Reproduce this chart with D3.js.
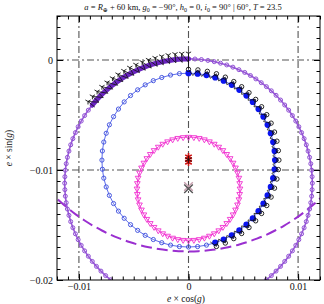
<!DOCTYPE html>
<html>
<head>
<meta charset="utf-8">
<script src="https://cdn.jsdelivr.net/npm/d3@7"></script>
<style>
body { margin: 0; background: #fff; }
</style>
</head>
<body>
<svg width="324" height="304"></svg>
<script>
// all series in units of 1e-3 : [e*cos(g), e*sin(g)]
const purpleRing = [[6.64,-20.34],[7.11,-19.98],[7.56,-19.60],[7.99,-19.19],[8.40,-18.76],[8.78,-18.31],[9.14,-17.84],[9.48,-17.35],[9.79,-16.85],[10.07,-16.33],[10.32,-15.80],[10.55,-15.25],[10.75,-14.69],[10.91,-14.12],[11.05,-13.55],[11.16,-12.97],[11.24,-12.38],[11.28,-11.79],[11.30,-11.20],[11.28,-10.61],[11.24,-10.02],[11.16,-9.43],[11.05,-8.85],[10.91,-8.28],[10.75,-7.71],[10.55,-7.15],[10.32,-6.60],[10.07,-6.07],[9.79,-5.55],[9.48,-5.05],[9.14,-4.56],[8.78,-4.09],[8.40,-3.64],[7.99,-3.21],[7.56,-2.80],[7.11,-2.42],[6.64,-2.06],[6.15,-1.72],[5.65,-1.41],[5.13,-1.13],[4.60,-0.88],[4.05,-0.65],[3.49,-0.45],[2.92,-0.29],[2.35,-0.15],[1.77,-0.04],[1.18,0.04],[0.59,0.09],[0,0.10],[-0.59,0.09],[-1.18,0.04],[-1.77,-0.04],[-2.35,-0.15],[-2.92,-0.29],[-3.49,-0.45],[-4.05,-0.65],[-4.60,-0.88],[-5.13,-1.13],[-5.65,-1.41],[-6.15,-1.72],[-6.64,-2.06],[-7.11,-2.42],[-7.56,-2.80],[-7.99,-3.21],[-8.40,-3.64],[-8.78,-4.09],[-9.14,-4.56],[-9.48,-5.05],[-9.79,-5.55],[-10.07,-6.07],[-10.32,-6.60],[-10.55,-7.15],[-10.75,-7.71],[-10.91,-8.28],[-11.05,-8.85],[-11.16,-9.43],[-11.24,-10.02],[-11.28,-10.61],[-11.30,-11.20],[-11.28,-11.79],[-11.24,-12.38],[-11.16,-12.97],[-11.05,-13.55],[-10.91,-14.12],[-10.75,-14.69],[-10.55,-15.25],[-10.32,-15.80],[-10.07,-16.33],[-9.79,-16.85],[-9.48,-17.35],[-9.14,-17.84],[-8.78,-18.31],[-8.40,-18.76],[-7.99,-19.19],[-7.56,-19.60],[-7.11,-19.98],[-6.64,-20.34]];

const thickArc = [[-8.78,-4.09],[-8.40,-3.64],[-7.99,-3.21],[-7.56,-2.80],[-7.11,-2.42],[-6.64,-2.06],[-6.15,-1.72],[-5.65,-1.41],[-5.13,-1.13],[-4.60,-0.88],[-4.05,-0.65],[-3.49,-0.45],[-2.92,-0.29],[-2.35,-0.15],[-1.77,-0.04],[-1.18,0.04],[-0.59,0.09],[0,0.10]];

const blueRing = [[7.90,-9.10],[7.86,-8.27],[7.73,-7.46],[7.51,-6.66],[7.22,-5.89],[6.84,-5.15],[6.39,-4.46],[5.87,-3.81],[5.29,-3.23],[4.64,-2.71],[3.95,-2.26],[3.21,-1.88],[2.44,-1.59],[1.64,-1.37],[0.83,-1.24],[0,-1.20],[-0.83,-1.24],[-1.64,-1.37],[-2.44,-1.59],[-3.21,-1.88],[-3.95,-2.26],[-4.64,-2.71],[-5.29,-3.23],[-5.87,-3.81],[-6.39,-4.46],[-6.84,-5.15],[-7.22,-5.89],[-7.51,-6.66],[-7.73,-7.46],[-7.86,-8.27],[-7.90,-9.10],[-7.86,-9.93],[-7.73,-10.74],[-7.51,-11.54],[-7.22,-12.31],[-6.84,-13.05],[-6.39,-13.74],[-5.87,-14.39],[-5.29,-14.97],[-4.64,-15.49],[-3.95,-15.94],[-3.21,-16.32],[-2.44,-16.61],[-1.64,-16.83],[-0.83,-16.96],[0,-17.00],[0.83,-16.96],[1.64,-16.83],[2.44,-16.61],[3.21,-16.32],[3.95,-15.94],[4.64,-15.49],[5.29,-14.97],[5.87,-14.39],[6.39,-13.74],[6.84,-13.05],[7.22,-12.31],[7.51,-11.54],[7.73,-10.74],[7.86,-9.93]];

const blueFilled = [[0,-1.20],[0.83,-1.24],[1.64,-1.37],[2.44,-1.59],[3.21,-1.88],[3.95,-2.26],[4.64,-2.71],[5.29,-3.23],[5.87,-3.81],[6.39,-4.46],[6.84,-5.15],[7.22,-5.89],[7.51,-6.66],[7.73,-7.46],[7.86,-8.27],[7.90,-9.10],[7.86,-9.93],[7.73,-10.74],[7.51,-11.54],[7.22,-12.31],[6.84,-13.05],[6.39,-13.74],[5.87,-14.39],[5.29,-14.97],[4.64,-15.49],[3.95,-15.94],[3.21,-16.32],[2.44,-16.61]];

const magentaRing = [[4.70,-11.70],[4.67,-11.21],[4.60,-10.72],[4.47,-10.25],[4.29,-9.79],[4.07,-9.35],[3.80,-8.94],[3.49,-8.56],[3.14,-8.21],[2.76,-7.90],[2.35,-7.63],[1.91,-7.41],[1.45,-7.23],[0.98,-7.10],[0.49,-7.03],[0,-7.00],[-0.49,-7.03],[-0.98,-7.10],[-1.45,-7.23],[-1.91,-7.41],[-2.35,-7.63],[-2.76,-7.90],[-3.14,-8.21],[-3.49,-8.56],[-3.80,-8.94],[-4.07,-9.35],[-4.29,-9.79],[-4.47,-10.25],[-4.60,-10.72],[-4.67,-11.21],[-4.70,-11.70],[-4.67,-12.19],[-4.60,-12.68],[-4.47,-13.15],[-4.29,-13.61],[-4.07,-14.05],[-3.80,-14.46],[-3.49,-14.84],[-3.14,-15.19],[-2.76,-15.50],[-2.35,-15.77],[-1.91,-15.99],[-1.45,-16.17],[-0.98,-16.30],[-0.49,-16.37],[0,-16.40],[0.49,-16.37],[0.98,-16.30],[1.45,-16.17],[1.91,-15.99],[2.35,-15.77],[2.76,-15.50],[3.14,-15.19],[3.49,-14.84],[3.80,-14.46],[4.07,-14.05],[4.29,-13.61],[4.47,-13.15],[4.60,-12.68],[4.67,-12.19]];

const dashedArc = [[-12.93,-11.64],[-12.30,-12.30],[-11.64,-12.93],[-10.95,-13.52],[-10.23,-14.08],[-9.48,-14.59],[-8.70,-15.07],[-7.90,-15.50],[-7.08,-15.90],[-6.24,-16.24],[-5.38,-16.55],[-4.50,-16.81],[-3.62,-17.02],[-2.72,-17.19],[-1.82,-17.30],[-0.91,-17.38],[0,-17.40],[0.91,-17.38],[1.82,-17.30],[2.72,-17.19],[3.62,-17.02],[4.50,-16.81],[5.38,-16.55],[6.24,-16.24],[7.08,-15.90],[7.90,-15.50],[8.70,-15.07],[9.48,-14.59],[10.23,-14.08],[10.95,-13.52],[11.64,-12.93],[12.30,-12.30],[12.93,-11.64]];

// oscillating trajectory, first along the i=90 arc, then along the i=60 arc
const triOuter = [[-9.17,-3.77],[-8.77,-3.30],[-8.34,-2.86],[-7.90,-2.43],[-7.43,-2.03],[-6.94,-1.65],[-6.43,-1.30],[-5.90,-0.98],[-5.36,-0.69],[-4.80,-0.42],[-4.23,-0.18],[-3.65,0.02],[-3.05,0.20],[-2.45,0.34],[-1.85,0.45],[-1.23,0.54],[-0.62,0.58],[0,0.60]];
const triInner = [[-8.55,-4.28],[-8.17,-3.84],[-7.78,-3.42],[-7.36,-3.03],[-6.92,-2.65],[-6.47,-2.30],[-5.99,-1.97],[-5.50,-1.67],[-4.99,-1.40],[-4.47,-1.15],[-3.94,-0.93],[-3.40,-0.74],[-2.85,-0.58],[-2.29,-0.44],[-1.72,-0.34],[-1.15,-0.26],[-0.58,-0.22],[0,-0.20]];
const circOuter = [[0,-0.85],[0.86,-0.90],[1.72,-1.03],[2.55,-1.25],[3.36,-1.56],[4.13,-1.96],[4.85,-2.43],[5.52,-2.97],[6.13,-3.58],[6.67,-4.25],[7.14,-4.97],[7.54,-5.74],[7.85,-6.55],[8.07,-7.38],[8.20,-8.24],[8.25,-9.10],[8.20,-9.96],[8.07,-10.82],[7.85,-11.65],[7.54,-12.46],[7.14,-13.23],[6.67,-13.95],[6.13,-14.62],[5.52,-15.23],[4.85,-15.77],[4.13,-16.24],[3.36,-16.64],[2.55,-16.95]];
const circInner = [[0.40,-1.41],[1.20,-1.49],[1.99,-1.66],[2.76,-1.91],[3.50,-2.24],[4.19,-2.64],[4.85,-3.12],[5.44,-3.66],[5.98,-4.25],[6.46,-4.91],[6.86,-5.60],[7.19,-6.34],[7.44,-7.11],[7.61,-7.90],[7.69,-8.70],[7.69,-9.50],[7.61,-10.30],[7.44,-11.09],[7.19,-11.86],[6.86,-12.60],[6.46,-13.29],[5.98,-13.95],[5.44,-14.54],[4.85,-15.08],[4.19,-15.56],[3.50,-15.96],[2.76,-16.29],[1.99,-16.54]];

// mean points
const redCenters = [[0,-8.80],[0,-9.05],[0,-9.30]];
const grayCenters = [[0,-11.50],[0,-11.70]];

const xMajor = [-0.01, 0, 0.01];
const yMajor = [0, -0.01, -0.02];
const xGrid = [-0.01, 0, 0.01];
const yGrid = [0, -0.01];

const svg = d3.select('svg');
const serif = '"Liberation Serif", "DejaVu Serif", serif';
const k = 1e-3;

const x = d3.scaleLinear().domain([-0.012, 0.012]).range([57, 320]);
const y = d3.scaleLinear().domain([-0.02, 0.004]).range([280, 16]);
const px = d => x(d[0] * k), py = d => y(d[1] * k);

svg.append('clipPath').attr('id', 'clip')
  .append('rect').attr('x', 57).attr('y', 16).attr('width', 263).attr('height', 264);

// grid
const grid = svg.append('g').attr('stroke', '#555').attr('stroke-width', 1.1)
  .attr('stroke-dasharray', '7,3,2,3');
grid.selectAll('.gx').data(xGrid).join('line')
  .attr('x1', d => x(d)).attr('x2', d => x(d)).attr('y1', 16).attr('y2', 280);
grid.selectAll('.gy').data(yGrid).join('line')
  .attr('y1', d => y(d)).attr('y2', d => y(d)).attr('x1', 57).attr('x2', 320);

const plot = svg.append('g').attr('clip-path', 'url(#clip)');
const line = d3.line().x(px).y(py);

// dashed purple arc
plot.append('path').attr('d', d3.line().x(px).y(py).curve(d3.curveCatmullRom)(dashedArc))
  .attr('fill', 'none').attr('stroke', '#9a2fd0').attr('stroke-width', 2)
  .attr('stroke-dasharray', '11,5');

// purple ring
plot.append('path').attr('d', line(purpleRing))
  .attr('fill', 'none').attr('stroke', '#9a5ad8').attr('stroke-width', 1.6);
plot.selectAll('.pr').data(purpleRing).join('circle')
  .attr('cx', px).attr('cy', py).attr('r', 2)
  .attr('fill', 'none').attr('stroke', '#8f4fd4').attr('stroke-width', 1);

// thick band
plot.append('path').attr('d', line(thickArc))
  .attr('fill', 'none').attr('stroke', '#6a24c0').attr('stroke-width', 5)
  .attr('stroke-linecap', 'round');

// blue ring, open circles
plot.append('path').attr('d', d3.line().x(px).y(py).curve(d3.curveLinearClosed)(blueRing))
  .attr('fill', 'none').attr('stroke', '#4a5ae8').attr('stroke-width', 0.9);
plot.selectAll('.br').data(blueRing).join('circle')
  .attr('cx', px).attr('cy', py).attr('r', 2.1)
  .attr('fill', 'none').attr('stroke', '#4a5ae0').attr('stroke-width', 1);

// magenta ring, open down triangles
const tri = d3.symbol().type(d3.symbolTriangle).size(14);
plot.append('path').attr('d', d3.line().x(px).y(py).curve(d3.curveLinearClosed)(magentaRing))
  .attr('fill', 'none').attr('stroke', '#f030d0').attr('stroke-width', 0.9);
plot.selectAll('.mr').data(magentaRing).join('path')
  .attr('d', tri)
  .attr('transform', d => `translate(${px(d)},${py(d)}) rotate(180)`)
  .attr('fill', 'none').attr('stroke', '#f030d0').attr('stroke-width', 0.9);

// filled blue
plot.selectAll('.bf').data(blueFilled).join('circle')
  .attr('cx', px).attr('cy', py).attr('r', 3.1).attr('fill', '#0a14f0');

// black oscillating trajectory
const zig = [];
triInner.forEach((d, i) => { zig.push(d); zig.push(triOuter[i]); });
circOuter.forEach((d, i) => { zig.push(d); zig.push(circInner[i]); });
plot.append('path').attr('d', line(zig))
  .attr('fill', 'none').attr('stroke', '#111').attr('stroke-width', 0.8);

const triDown = s => `M0,0L0,${s}M0,0L${-0.87 * s},${-0.5 * s}M0,0L${0.87 * s},${-0.5 * s}`;
plot.selectAll('.bt').data(triOuter).join('path')
  .attr('d', triDown(3))
  .attr('transform', d => `translate(${px(d)},${py(d)})`)
  .attr('fill', 'none').attr('stroke', '#111').attr('stroke-width', 0.9);
plot.selectAll('.bc').data(circOuter).join('circle')
  .attr('cx', px).attr('cy', py).attr('r', 2.2)
  .attr('fill', 'none').attr('stroke', '#111').attr('stroke-width', 0.9);

// mean points
const star = d3.symbol().type(d3.symbolAsterisk).size(40);
plot.selectAll('.rc').data(redCenters).join('path')
  .attr('d', star).attr('transform', d => `translate(${px(d)},${py(d)})`)
  .attr('fill', 'none').attr('stroke', '#d01010').attr('stroke-width', 1.6);
plot.append('path').attr('d', star)
  .attr('transform', `translate(${px(redCenters[1])},${py(redCenters[1])})`)
  .attr('fill', 'none').attr('stroke', '#111').attr('stroke-width', 0.8);
const times = d3.symbol().type(d3.symbolTimes).size(50);
plot.selectAll('.gc').data(grayCenters).join('path')
  .attr('d', times).attr('transform', d => `translate(${px(d)},${py(d)})`)
  .attr('fill', 'none').attr('stroke', (d, i) => i ? '#555' : '#c8a0b0').attr('stroke-width', 1.4);

// axes
const fmt = d3.format('.2~f');
const xMinor = d3.range(-12, 13).map(v => v * k);
const yMinor = d3.range(-20, 5).map(v => v * k);
function styleAxis(g) {
  g.select('.domain').remove();
  g.selectAll('line').attr('stroke', '#000');
  g.selectAll('text').attr('font-family', serif).attr('font-size', 10).attr('fill', '#111');
}
svg.append('g').attr('transform', 'translate(0,280)')
  .call(d3.axisBottom(x).tickValues(xMajor).tickSize(-6).tickPadding(3).tickFormat(fmt)).call(styleAxis);
svg.append('g').attr('transform', 'translate(0,280)')
  .call(d3.axisBottom(x).tickValues(xMinor).tickSize(-3.5).tickFormat('')).call(styleAxis);
svg.append('g').attr('transform', 'translate(0,16)')
  .call(d3.axisTop(x).tickValues(xMajor).tickSize(-6).tickFormat('')).call(styleAxis);
svg.append('g').attr('transform', 'translate(0,16)')
  .call(d3.axisTop(x).tickValues(xMinor).tickSize(-3.5).tickFormat('')).call(styleAxis);
svg.append('g').attr('transform', 'translate(57,0)')
  .call(d3.axisLeft(y).tickValues(yMajor).tickSize(-6).tickPadding(4).tickFormat(fmt)).call(styleAxis);
svg.append('g').attr('transform', 'translate(57,0)')
  .call(d3.axisLeft(y).tickValues(yMinor).tickSize(-3.5).tickFormat('')).call(styleAxis);
svg.append('g').attr('transform', 'translate(320,0)')
  .call(d3.axisRight(y).tickValues(yMajor).tickSize(-6).tickFormat('')).call(styleAxis);
svg.append('g').attr('transform', 'translate(320,0)')
  .call(d3.axisRight(y).tickValues(yMinor).tickSize(-3.5).tickFormat('')).call(styleAxis);

svg.append('rect').attr('x', 57).attr('y', 16).attr('width', 263).attr('height', 264)
  .attr('fill', 'none').attr('stroke', '#000').attr('stroke-width', 1);

// texts
function richText(el, parts) {
  parts.forEach(p => {
    const t = el.append('tspan').text(p[0]);
    if (p[1] === 'i') t.attr('font-style', 'italic');
    if (p[1] === 's') t.attr('font-size', '0.7em').attr('dy', 2);
    if (p[1] === 'u') t.attr('dy', -2);
  });
}
const title = svg.append('text').attr('x', 183).attr('y', 10)
  .attr('text-anchor', 'middle').attr('font-family', serif).attr('font-size', 8.5).attr('fill', '#111');
richText(title, [['a', 'i'], [' = '], ['R', 'i'], ['⊕', 's'], [' + 60 km,  ', 'u'], ['g', 'i'], ['0', 's'],
  [' = −90°,  ', 'u'], ['h', 'i'], ['0', 's'], [' = 0,  ', 'u'], ['i', 'i'], ['0', 's'],
  [' = 90° | 60°,  ', 'u'], ['T', 'i'], [' = 23.5']]);

const xl = svg.append('text').attr('x', 186).attr('y', 302)
  .attr('text-anchor', 'middle').attr('font-family', serif).attr('font-size', 9.5).attr('fill', '#111');
richText(xl, [['e', 'i'], [' × cos('], ['g', 'i'], [')']]);
const yl = svg.append('text').attr('transform', 'translate(12,148) rotate(-90)')
  .attr('text-anchor', 'middle').attr('font-family', serif).attr('font-size', 9.5).attr('fill', '#111');
richText(yl, [['e', 'i'], [' × sin('], ['g', 'i'], [')']]);
</script>
</body>
</html>
